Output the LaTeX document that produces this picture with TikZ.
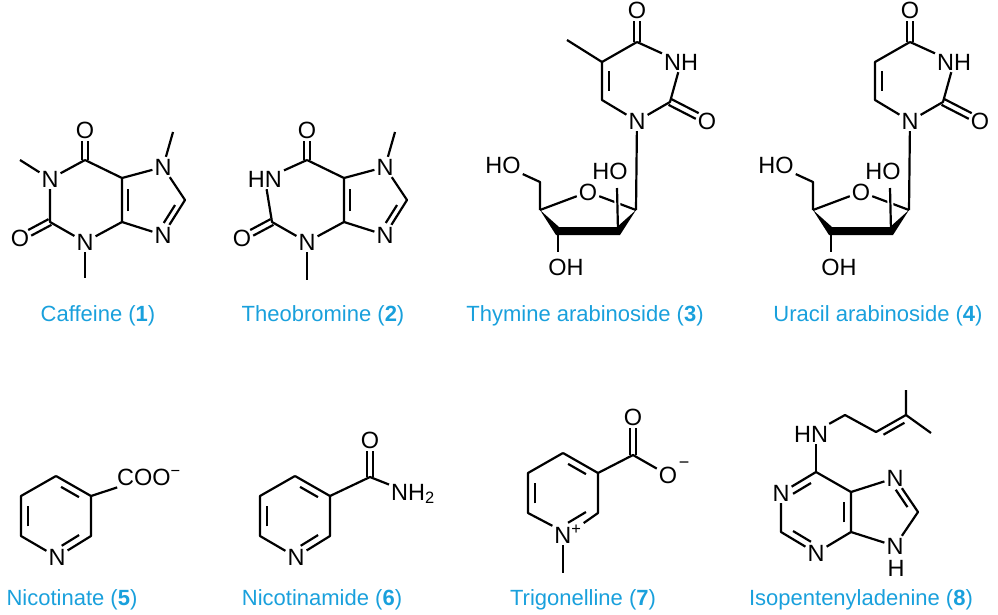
\documentclass[tikz,border=0pt]{standalone}
\usepackage{fontspec}
\setmainfont{Liberation Sans}
\usetikzlibrary{calc}
\definecolor{labcol}{RGB}{25,160,220}
% ring double bond (inner line toward ring centre)
\newcommand\mydbr[3]{\draw ($($(#1)!0.18!(#2)$)!0.2!(#3)$) -- ($($(#1)!0.82!(#2)$)!0.2!(#3)$);}
% exocyclic C=O (carbon coordinate #1, oxygen node #2)
\newcommand\mydbo[2]{%
  \draw ($(#1)!3.2pt!90:(#2)$) -- ($($(#2)!11pt!(#1)$)!3.2pt!-90:(#1)$);
  \draw ($(#1)!3.2pt!-90:(#2)$) -- ($($(#2)!11pt!(#1)$)!3.2pt!90:(#1)$);}
\newcommand\arab[2]{%
\begin{scope}[xshift=#2]
  \node[atom] (#1o4) at (637,10) {O};
  \coordinate (#1c4) at (637,42);
  \node[atom,anchor=west] (#1n3) at (662,62) {NH};
  \coordinate (#1c2) at (670,102);
  \node[atom] (#1o2) at (707,121) {O};
  \node[atom] (#1n1) at (637,121) {N};
  \coordinate (#1c6) at (602,100);
  \coordinate (#1c5) at (602,62);
  \coordinate (#1ctr) at (636,81);
  \coordinate (#1c1) at (636,210);
  \node[atom] (#1o4s) at (588,192) {O};
  \coordinate (#1c4s) at (540,210);
  \coordinate (#1c3s) at (558,231);
  \coordinate (#1c2s) at (618,231);
  \coordinate (#1c5s) at (540,182);
  \node[atom] (#1ho5) at (503,165) {HO};
  \node[atom] (#1ho2) at (610,171) {HO};
  \coordinate (#1hob) at (617,188);
  \node[atom] (#1oh3) at (566,267) {OH};
  \coordinate (#1ohb) at (558,252);
\end{scope}
  \draw (#1c4) -- (#1c5) -- (#1c6) -- (#1n1) -- (#1c2) -- (#1n3) -- (#1c4);
  \mydbr{#1c5}{#1c6}{#1ctr}
  \mydbo{#1c4}{#1o4}
  \mydbo{#1c2}{#1o2}
  \draw (#1n1) -- (#1c1);
  \draw (#1c4s) -- (#1o4s) -- (#1c1);
  \draw (#1c4s) -- (#1c5s) -- (#1ho5);
  \draw[white,line width=6pt] (#1c2s) -- (#1hob);
  \draw (#1c2s) -- (#1hob);
  \draw (#1c3s) -- (#1ohb);
  \fill (#1c4s) -- ($(#1c3s)+(-2,4)$) -- ($(#1c2s)+(2,4)$) -- (#1c1) -- ($(#1c2s)+(-1,-4)$) -- ($(#1c3s)+(1,-4)$) -- cycle;
}
\tikzset{
  atom/.style={inner sep=1pt, font=\fontsize{23.5}{23.5}\selectfont},
  lab/.style={text=labcol, font=\fontsize{22}{22}\selectfont},
}
\begin{document}
\begin{tikzpicture}[x=1pt,y=-1pt,line width=2.2pt,line join=round]
\useasboundingbox (0,0) rectangle (998,614);
% ---------- Caffeine ----------
\coordinate (ac6) at (85,160);
\node[atom] (ao6) at (85,130) {O};
\node[atom] (an1) at (50,179) {N};
\coordinate (ame1) at (20,160);
\coordinate (ac2) at (50,222);
\node[atom] (ao2) at (20,238) {O};
\node[atom] (an3) at (85,242) {N};
\coordinate (ame3) at (85,278);
\coordinate (ac4) at (122,222);
\coordinate (ac5) at (122,178);
\node[atom] (an7) at (163,167) {N};
\coordinate (ame7) at (173,132);
\coordinate (ac8) at (185,200);
\node[atom] (an9) at (163,235) {N};
\coordinate (actr) at (151,200);
\draw (ac6) -- (an1) -- (ac2) -- (an3) -- (ac4) -- (ac5) -- (ac6);
\draw (ac5) -- (an7) -- (ac8) -- (an9) -- (ac4);
\draw (an1) -- (ame1); \draw (an3) -- (ame3); \draw (an7) -- (ame7);
\mydbo{ac6}{ao6} \mydbo{ac2}{ao2}
\mydbr{ac4}{ac5}{actr} \mydbr{ac8}{an9}{actr}
\node[lab] (l1) at (98,316) {Caffeine ({\bfseries 1})};
% ---------- Theobromine ----------
\coordinate (bc6) at (307,160);
\node[atom] (bo6) at (307,130) {O};
\node[atom,anchor=east] (bn1) at (284,179) {HN};
\coordinate (bc2) at (272,222);
\node[atom] (bo2) at (242,238) {O};
\node[atom] (bn3) at (307,242) {N};
\coordinate (bme3) at (307,280);
\coordinate (bc4) at (344,222);
\coordinate (bc5) at (344,178);
\node[atom] (bn7) at (385,167) {N};
\coordinate (bme7) at (395,132);
\coordinate (bc8) at (407,200);
\node[atom] (bn9) at (385,235) {N};
\coordinate (bctr) at (373,200);
\draw (bc6) -- (bn1) -- (bc2) -- (bn3) -- (bc4) -- (bc5) -- (bc6);
\draw (bc5) -- (bn7) -- (bc8) -- (bn9) -- (bc4);
\draw (bn3) -- (bme3); \draw (bn7) -- (bme7);
\mydbo{bc6}{bo6} \mydbo{bc2}{bo2}
\mydbr{bc4}{bc5}{bctr} \mydbr{bc8}{bn9}{bctr}
\node[lab] (l2) at (323,316) {Theobromine ({\bfseries 2})};
% ---------- Arabinosides ----------
\arab{T}{0}
\coordinate (Tme) at (567,40);
\draw (Tc5) -- (Tme);
\node[lab] (l3) at (585,316) {Thymine arabinoside ({\bfseries 3})};
\arab{U}{273}
\node[lab] (l4) at (878,316) {Uracil arabinoside ({\bfseries 4})};
% ---------- Nicotinate ----------
\coordinate (pctr) at (56,516);
\coordinate (pt) at (56,476); \coordinate (pur) at (91,496); \coordinate (plr) at (91,536);
\node[atom] (pn) at (57,557) {N};
\coordinate (pll) at (21,536); \coordinate (pul) at (21,496);
\draw (pt) -- (pur) -- (plr) -- (pn) -- (pll) -- (pul) -- (pt);
\mydbr{pt}{pur}{pctr} \mydbr{plr}{pn}{pctr} \mydbr{pll}{pul}{pctr}
\node[atom,anchor=west] (pcoo) at (115,477) {COO\textsuperscript{\char"2212}};
\draw (pur) -- (pcoo);
\node[lab] (l5) at (72,600) {Nicotinate ({\bfseries 5})};
% ---------- Nicotinamide ----------
\coordinate (qctr) at (295,516);
\coordinate (qt) at (295,476); \coordinate (qur) at (330,496); \coordinate (qlr) at (330,536);
\node[atom] (qn) at (296,557) {N};
\coordinate (qll) at (260,536); \coordinate (qul) at (260,496);
\draw (qt) -- (qur) -- (qlr) -- (qn) -- (qll) -- (qul) -- (qt);
\mydbr{qt}{qur}{qctr} \mydbr{qlr}{qn}{qctr} \mydbr{qll}{qul}{qctr}
\coordinate (qc) at (370,477);
\node[atom] (qo) at (370,440) {O};
\node[atom,anchor=west] (qnh) at (389,494) {NH\textsubscript{2}};
\draw (qur) -- (qc) -- (qnh);
\mydbo{qc}{qo}
\node[lab] (l6) at (322,600) {Nicotinamide ({\bfseries 6})};
% ---------- Trigonelline ----------
\coordinate (rctr) at (563,493);
\coordinate (rt) at (563,453); \coordinate (rur) at (598,473); \coordinate (rlr) at (598,513);
\node[atom] (rn) at (568,534) {N\textsuperscript{+}};
\coordinate (rll) at (528,513); \coordinate (rul) at (528,473);
\coordinate (rnc) at (563,534);
\draw (rt) -- (rur) -- (rlr) -- (rn) -- (rll) -- (rul) -- (rt);
\mydbr{rt}{rur}{rctr} \mydbr{rlr}{rnc}{rctr} \mydbr{rll}{rul}{rctr}
\coordinate (rme) at (563,573);
\draw (rn.south -| rnc) -- (rme);
\coordinate (rc) at (633,455);
\node[atom] (ro) at (633,417) {O};
\node[atom] (rom) at (668,475) {O};
\node[atom,font=\fontsize{18}{18}\selectfont] (rminus) at (684,465) {\char"2212};
\draw (rur) -- (rc) -- (rom);
\mydbo{rc}{ro}
\node[lab] (l7) at (583,600) {Trigonelline ({\bfseries 7})};
% ---------- Isopentenyladenine ----------
\coordinate (sctr) at (816,512);
\coordinate (s6) at (816,472);
\node[atom] (sn1) at (781,493) {N};
\coordinate (s2) at (781,532);
\node[atom] (sn3) at (816,553) {N};
\coordinate (s4) at (851,532);
\coordinate (s5) at (851,492);
\node[atom] (sn7) at (895,478) {N};
\coordinate (s8) at (918,512);
\node[atom] (sn9) at (895,546) {N};
\node[atom] (sh) at (896,568) {H};
\coordinate (fctr) at (882,512);
\draw (s6) -- (sn1) -- (s2) -- (sn3) -- (s4) -- (s5) -- (s6);
\draw (s5) -- (sn7) -- (s8) -- (sn9) -- (s4);
\mydbr{s6}{sn1}{sctr} \mydbr{s2}{sn3}{sctr} \mydbr{s4}{s5}{sctr} \mydbr{sn7}{s8}{fctr}
\node[atom] (shn) at (811,434) {HN};
\coordinate (sch2) at (845,415);
\coordinate (sch) at (876,432);
\coordinate (scq) at (906,415);
\coordinate (smea) at (906,390);
\coordinate (smeb) at (931,433);
\draw (s6) -- (shn.south -| s6);
\draw (shn) -- (sch2) -- (sch) -- (scq) -- (smea);
\draw (scq) -- (smeb);
\draw ($($(sch)!0.15!(scq)$)!6pt!-90:(scq)$) -- ($($(sch)!0.85!(scq)$)!6pt!-90:(scq)$);
\node[lab] (l8) at (861,600) {Isopentenyladenine ({\bfseries 8})};
\end{tikzpicture}
\end{document}
